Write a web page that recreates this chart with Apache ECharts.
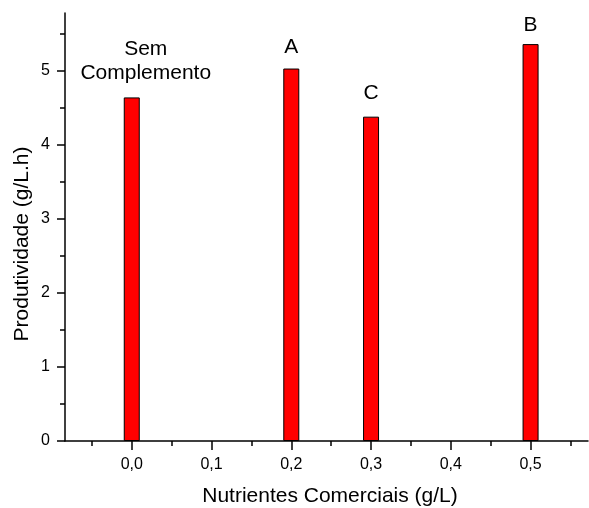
<!DOCTYPE html>
<html>
<head>
<meta charset="utf-8">
<script src="https://cdn.jsdelivr.net/npm/echarts@6/dist/echarts.min.js"></script>
<style>
  html, body { margin: 0; padding: 0; background: #fff; }
  #chart { width: 589px; height: 508px; }
</style>
</head>
<body>
<div id="chart"></div>
<script>
// Nutrient dose (g/L) for each run and the productivity measured
const doses = [0.0, 0.2, 0.3, 0.5];
const productivity = [4.64, 5.03, 4.38, 5.36];
const barNames = ['Sem\nComplemento', 'A', 'C', 'B'];

// Tick positions
const xMajorTicks = [0.0, 0.1, 0.2, 0.3, 0.4, 0.5];
const xMinorTicks = [-0.05, 0.05, 0.15, 0.25, 0.35, 0.45, 0.55];
const yMinorTicks = [0.5, 1.5, 2.5, 3.5, 4.5, 5.5];

const FONT = '"Liberation Sans", Arial, sans-serif';
const X_MIN = -0.0837, X_MAX = 0.572;
const Y_MIN = 0, Y_MAX = 5.78;

// per-bar label placement (distance above bar, horizontal shift)
const labelLayout = [
  { distance: 12, dx: 14 },
  { distance: 9, dx: 0 },
  { distance: 11, dx: 0 },
  { distance: 7, dx: 0 }
];

const chart = echarts.init(document.getElementById('chart'), null, { renderer: 'canvas' });

const axisLineStyle = { color: '#000', width: 1.5 };
const tickLine = { color: '#000', width: 1.5 };

chart.setOption({
  animation: false,
  backgroundColor: '#fff',
  grid: { left: 65, right: 1, top: 13, bottom: 67, containLabel: false },
  xAxis: [
    {
      type: 'value', min: X_MIN, max: X_MAX, position: 'bottom',
      axisLine: { show: true, onZero: false, lineStyle: axisLineStyle },
      axisTick: { show: true, inside: false, length: 9, customValues: xMajorTicks, lineStyle: tickLine },
      axisLabel: { customValues: xMajorTicks, margin: 16, color: '#000', fontSize: 16,
                   fontFamily: FONT,
                   formatter: v => v.toFixed(1).replace('.', ',') },
      splitLine: { show: false }
    },
    {
      type: 'value', min: X_MIN, max: X_MAX, position: 'bottom', offset: 0,
      axisLine: { show: false, onZero: false },
      axisTick: { show: true, inside: false, length: 5, customValues: xMinorTicks, lineStyle: tickLine },
      axisLabel: { show: false },
      splitLine: { show: false }
    }
  ],
  yAxis: [
    {
      type: 'value', min: Y_MIN, max: Y_MAX, interval: 1, position: 'left',
      axisLine: { show: true, onZero: false, lineStyle: axisLineStyle },
      axisTick: { show: true, inside: false, length: 8, lineStyle: tickLine },
      axisLabel: { margin: 15, color: '#000', fontSize: 16, fontFamily: FONT,
                   showMaxLabel: false },
      splitLine: { show: false }
    },
    {
      type: 'value', min: Y_MIN, max: Y_MAX, position: 'left', offset: 0,
      axisLine: { show: false, onZero: false },
      axisTick: { show: true, inside: false, length: 5, customValues: yMinorTicks, lineStyle: tickLine },
      axisLabel: { show: false },
      splitLine: { show: false }
    }
  ],
  graphic: [
    {
      type: 'text', x: 330, y: 496,
      style: { text: 'Nutrientes Comerciais (g/L)', font: '21px ' + FONT, fill: '#000',
               textAlign: 'center', textVerticalAlign: 'middle' }
    },
    {
      type: 'text', x: 22, y: 244, rotation: Math.PI / 2,
      style: { text: 'Produtividade (g/L.h)', font: '21px ' + FONT, fill: '#000',
               textAlign: 'center', textVerticalAlign: 'middle' }
    }
  ],
  series: [
    {
      type: 'bar',
      xAxisIndex: 0, yAxisIndex: 0,
      barWidth: 16,
      itemStyle: { color: '#ff0000', borderColor: '#000', borderWidth: 1 },
      data: doses.map((d, i) => ({
        value: [d, productivity[i]],
        label: {
          show: true, position: 'top',
          formatter: barNames[i],
          distance: labelLayout[i].distance,
          offset: [labelLayout[i].dx, 0],
          color: '#000', fontSize: 21, fontFamily: FONT, lineHeight: 24, align: 'center'
        }
      }))
    }
  ]
});
</script>
</body>
</html>
